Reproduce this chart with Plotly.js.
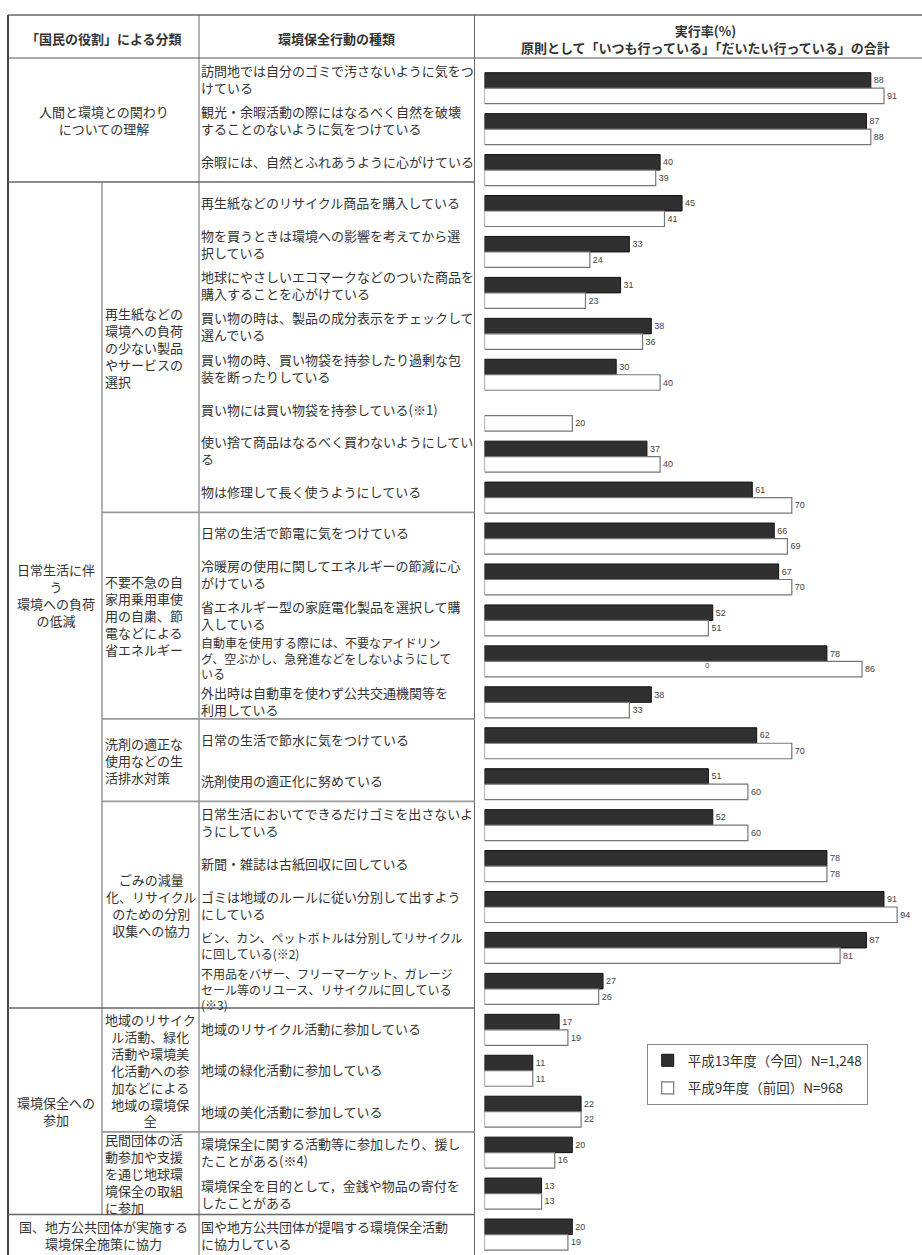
<!DOCTYPE html>
<html><head><meta charset="utf-8">
<script src="https://cdn.plot.ly/plotly-3.0.1.min.js"></script>
<style>html,body{margin:0;padding:0;background:#fff}#chart{width:922px;height:1255px}</style>
</head><body><div id="chart"></div>
<script>
// ---- data ----
const actions = [
  "訪問地では自分のゴミで汚さないように気をつ<br>けている",
  "観光・余暇活動の際にはなるべく自然を破壊<br>することのないように気をつけている",
  "余暇には、自然とふれあうように心がけている",
  "再生紙などのリサイクル商品を購入している",
  "物を買うときは環境への影響を考えてから選<br>択している",
  "地球にやさしいエコマークなどのついた商品を<br>購入することを心がけている",
  "買い物の時は、製品の成分表示をチェックして<br>選んでいる",
  "買い物の時、買い物袋を持参したり過剰な包<br>装を断ったりしている",
  "買い物には買い物袋を持参している(※1)",
  "使い捨て商品はなるべく買わないようにしてい<br>る",
  "物は修理して長く使うようにしている",
  "日常の生活で節電に気をつけている",
  "冷暖房の使用に関してエネルギーの節減に心<br>がけている",
  "省エネルギー型の家庭電化製品を選択して購<br>入している",
  "自動車を使用する際には、不要なアイドリン<br>グ、空ぶかし、急発進などをしないようにして<br>いる",
  "外出時は自動車を使わず公共交通機関等を<br>利用している",
  "日常の生活で節水に気をつけている",
  "洗剤使用の適正化に努めている",
  "日常生活においてできるだけゴミを出さないよ<br>うにしている",
  "新聞・雑誌は古紙回収に回している",
  "ゴミは地域のルールに従い分別して出すよう<br>にしている",
  "ビン、カン、ペットボトルは分別してリサイクル<br>に回している(※2)",
  "不用品をバザー、フリーマーケット、ガレージ<br>セール等のリユース、リサイクルに回している<br>(※3)",
  "地域のリサイクル活動に参加している",
  "地域の緑化活動に参加している",
  "地域の美化活動に参加している",
  "環境保全に関する活動等に参加したり、援し<br>たことがある(※4)",
  "環境保全を目的として，金銭や物品の寄付を<br>したことがある",
  "国や地方公共団体が提唱する環境保全活動<br>に協力している"
];
const h13 = [88, 87, 40, 45, 33, 31, 38, 30, null, 37, 61, 66, 67, 52, 78, 38, 62, 51, 52, 78, 91, 87, 27, 17, 11, 22, 20, 13, 20];
const h9  = [91, 88, 39, 41, 24, 23, 36, 40, 20, 40, 70, 69, 70, 51, 86, 33, 70, 60, 60, 78, 94, 81, 26, 19, 11, 22, 16, 13, 19];
const seriesNames = ["平成13年度（今回）N=1,248", "平成9年度（前回）N=968"];
const headers = ["「国民の役割」による分類", "環境保全行動の種類",
  "実行率(%)<br>原則として「いつも行っている」「だいたい行っている」の合計"];

const roleLabels = ["人間と環境との関わり<br>についての理解", "日常生活に伴<br>う<br>環境への負荷<br>の低減",
  "環境保全への<br>参加", "国、地方公共団体が実施する<br>環境保全施策に協力"];
const roleStart = [0, 3, 23, 28];
const roleEnd   = [3, 23, 28, 29];
const roleWide  = [true, false, false, true];

const subLabels = ["再生紙などの<br>環境への負荷<br>の少ない製品<br>やサービスの<br>選択",
  "不要不急の自<br>家用乗用車使<br>用の自粛、節<br>電などによる<br>省エネルギー",
  "洗剤の適正な<br>使用などの生<br>活排水対策",
  "ごみの減量<br>化、リサイクル<br>のための分別<br>収集への協力",
  "地域のリサイク<br>ル活動、緑化<br>活動や環境美<br>化活動への参<br>加などによる<br>地域の環境保<br>全",
  "民間団体の活<br>動参加や支援<br>を通じ地球環<br>境保全の取組<br>に参加"];
const subStart = [3, 11, 16, 18, 23, 26];
const subEnd   = [11, 16, 18, 23, 26, 28];
const subCentered = [false, false, false, true, true, false];

// ---- geometry (page layout of the table) ----
const W = 922, H = 1255;
const TOP = 15, HEAD = 58, ROWH = 41.3;
const xL = 8, xC1 = 102, xC2 = 199, xC3 = 474.5, xR = 922;
const X = p => p / W, Y = p => 1 - p / H;
const rowTop = k => HEAD + ROWH * k;
const FONT = "Noto Sans CJK JP, sans-serif";
const TXT = "#333";
// tighter text for the crowded rows, small vertical nudges (px)
const tightRows = [14, 21, 22];
const rowNudge = {13: -1, 14: 1.6, 15: 3, 22: 2};

const shapes = [];
function line(x0, y0, x1, y1, color, width) {
  shapes.push({type: "line", xref: "paper", yref: "paper", x0: X(x0), y0: Y(y0), x1: X(x1), y1: Y(y1),
    line: {color: color, width: width}, layer: "above"});
}
line(xL, TOP, xR, TOP, "#666", 1.5);
line(xL, HEAD, xR, HEAD, "#aaa", 2);
line(xL, TOP, xL, H, "#444", 2);
line(xC2, TOP, xC2, H, "#666", 1);
line(xC3, TOP, xC3, H, "#666", 1);
line(xC1, rowTop(3), xC1, rowTop(28), "#666", 1);
roleStart.slice(1).forEach(k => line(xL, rowTop(k), xC3, rowTop(k), "#666", 1.5));
[11, 16, 18, 26].forEach(k => line(xC1, rowTop(k), xC3, rowTop(k), "#999", 1.8));

const annotations = [];
function note(text, x, y, xanchor, align, size) {
  annotations.push({text: text, xref: "paper", yref: "paper", x: X(x), y: Y(y),
    xanchor: xanchor, yanchor: "middle", align: align, showarrow: false,
    font: {family: FONT, size: size || 13, color: TXT}});
}
note("<b>" + headers[0] + "</b>", (xL + xC2) / 2, 39, "center", "center", 13);
note("<b>" + headers[1] + "</b>", (xC2 + xC3) / 2, 39, "center", "center", 13);
note("<b>" + headers[2] + "</b>", 705, 39, "center", "center", 13);

actions.forEach((t, k) => note(t, xC2 - 0.5, rowTop(k) + ROWH / 2 + (rowNudge[k] || 0), "left", "left",
  tightRows.includes(k) ? 12 : 13));
roleLabels.forEach((t, i) => {
  const cx = roleWide[i] ? (xL + xC2) / 2 : (xL + xC1) / 2 + 1;
  note(t, cx, (rowTop(roleStart[i]) + rowTop(roleEnd[i])) / 2, "center", "center", 13);
});
subLabels.forEach((t, i) => {
  const yc = (rowTop(subStart[i]) + rowTop(subEnd[i])) / 2;
  if (subCentered[i]) note(t, (xC1 + xC2) / 2, yc, "center", "center", 13);
  else note(t, xC1 + 0.5, yc, "left", "left", 13);
});
// stray label visible in the source picture
annotations.push({text: "0", xref: "x", yref: "y", x: 50.8, y: 14.09, showarrow: false,
  font: {family: "Liberation Sans, sans-serif", size: 8, color: "#555"}});

const lblFont = {family: "Liberation Sans, sans-serif", size: 9, color: "#444"};
const traces = [
  {type: "bar", orientation: "h", name: seriesNames[0], y: actions, x: h13,
   text: h13.map(v => v == null ? "" : String(v)), textposition: "outside", cliponaxis: false,
   textfont: lblFont, marker: {color: "#303030", line: {color: "#111", width: 1}},
   legendgroup: "a", hoverinfo: "x+name"},
  {type: "bar", orientation: "h", name: seriesNames[1], y: actions, x: h9,
   text: h9.map(v => v == null ? "" : String(v)), textposition: "outside", cliponaxis: false,
   textfont: lblFont, marker: {color: "#ffffff", line: {color: "#777", width: 1.2}},
   legendgroup: "b", hoverinfo: "x+name"}
];

const layout = {
  width: W, height: H, margin: {l: 0, r: 0, t: 0, b: 0, pad: 0},
  paper_bgcolor: "#fff", plot_bgcolor: "rgba(0,0,0,0)",
  barmode: "group", bargap: 0.243, bargroupgap: 0,
  xaxis: {domain: [484.5 / W, 1], range: [0, (W - 484.5) / 4.39], visible: false, fixedrange: true},
  yaxis: {type: "category", range: [28.5, -2.154], visible: false, fixedrange: true},
  showlegend: true,
  legend: {x: X(646.7), y: Y(1044), xanchor: "left", yanchor: "top", bgcolor: "#fff",
    bordercolor: "#888", borderwidth: 1, font: {family: FONT, size: 13.5, color: "#333"},
    traceorder: "grouped", tracegroupgap: 7, itemclick: false, itemdoubleclick: false},
  shapes: shapes, annotations: annotations
};
Plotly.newPlot("chart", traces, layout, {displayModeBar: false, staticPlot: true});
</script></body></html>
